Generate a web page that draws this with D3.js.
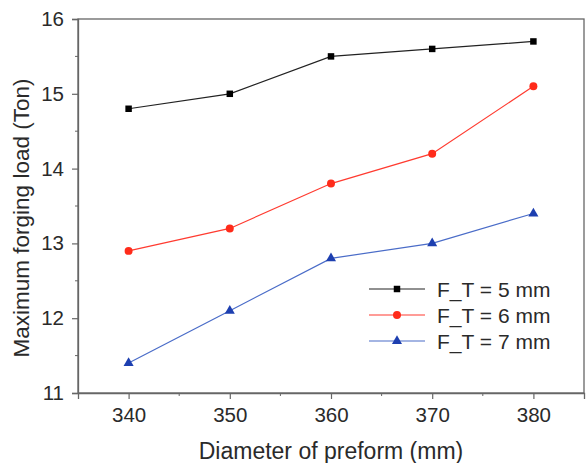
<!DOCTYPE html>
<html>
<head>
<meta charset="utf-8">
<script src="https://cdn.jsdelivr.net/npm/d3@7"></script>
<style>
	body { margin: 0; background: #fff; }
	svg text { font-family: "Liberation Sans", Arial, sans-serif; fill: #2a2a2a; }
</style>
</head>
<body>
<svg id="chart" width="587" height="463"></svg>
<script>
// Data
const diameters = [340, 350, 360, 370, 380];
const load5 = [14.8, 15.0, 15.5, 15.6, 15.7];
const load6 = [12.9, 13.2, 13.8, 14.2, 15.1];
const load7 = [11.4, 12.1, 12.8, 13.0, 13.4];
const seriesNames = ['F_T = 5 mm', 'F_T = 6 mm', 'F_T = 7 mm'];
const xTicks = [340, 350, 360, 370, 380];
const yTicks = [11, 12, 13, 14, 15, 16];

const series = [
	{ 'name': seriesNames[0], 'values': load5, 'line': '#222', 'fill': '#000', 'symbol': d3.symbolSquare, 'size': 42 },
	{ 'name': seriesNames[1], 'values': load6, 'line': '#ff3b30', 'fill': '#ff2b1a', 'symbol': d3.symbolCircle, 'size': 50 },
	{ 'name': seriesNames[2], 'values': load7, 'line': '#4a6cc8', 'fill': '#1d3fb0', 'symbol': d3.symbolTriangle, 'size': 44 }
];

const svg = d3.select('#chart');
const margin = { 'left': 78, 'top': 19, 'right': 3, 'bottom': 70 };
const width = 587 - margin.left - margin.right;
const height = 463 - margin.top - margin.bottom;

const x = d3.scaleLinear().domain([335, 385]).range([0, width]);
const y = d3.scaleLinear().domain([11, 16]).range([height, 0]);

const g = svg.append('g').attr('transform', 'translate(' + margin.left + ',' + margin.top + ')');

// Frame
g.append('rect')
	.attr('width', width)
	.attr('height', height)
	.style('fill', 'none')
	.style('stroke', '#666')
	.style('stroke-width', 1.3);

// Minor ticks
g.append('g').selectAll('line')
	.data([345, 355, 365, 375])
.join('line')
	.attr('x1', d => x(d)).attr('x2', d => x(d))
	.attr('y1', height).attr('y2', height + 3)
	.style('stroke', '#666');

g.append('g').selectAll('line')
	.data([11.5, 12.5, 13.5, 14.5, 15.5])
.join('line')
	.attr('y1', d => y(d)).attr('y2', d => y(d))
	.attr('x1', 0).attr('x2', -3)
	.style('stroke', '#666');

// Axes
const xAxis = g.append('g')
	.attr('transform', 'translate(0,' + height + ')')
	.call(d3.axisBottom(x).tickValues(xTicks).tickFormat(d3.format('d')).tickSize(6).tickPadding(8));
const yAxis = g.append('g')
	.call(d3.axisLeft(y).tickValues(yTicks).tickFormat(d3.format('d')).tickSize(6).tickPadding(8));

for (const axis of [xAxis, yAxis]) {
	axis.attr('font-size', null).attr('font-family', null);
	axis.select('.domain').style('stroke', '#666').style('stroke-width', 1.3);
	axis.selectAll('.tick line').style('stroke', '#666').style('stroke-width', 1.2);
	axis.selectAll('.tick text').style('font-size', '20.5px').style('fill', '#2a2a2a');
}

// Axis titles
svg.append('text')
	.attr('x', margin.left + width / 2)
	.attr('y', 459)
	.attr('text-anchor', 'middle')
	.style('font-size', '23px')
	.text('Diameter of preform (mm)');

svg.append('text')
	.attr('transform', 'translate(29,218) rotate(-90)')
	.attr('text-anchor', 'middle')
	.style('font-size', '22.5px')
	.text('Maximum forging load (Ton)');

// Lines and markers
const line = d3.line()
	.x((d, i) => x(diameters[i]))
	.y(d => y(d));

for (const s of series) {
	g.append('path')
		.datum(s.values)
		.attr('d', line)
		.style('fill', 'none')
		.style('stroke', s.line)
		.style('stroke-width', 1.2);

	g.append('g').selectAll('path')
		.data(s.values)
	.join('path')
		.attr('transform', (d, i) => 'translate(' + x(diameters[i]) + ',' + y(d) + ')')
		.attr('d', d3.symbol().type(s.symbol).size(s.size))
		.style('fill', s.fill);
}

// Legend
const legend = svg.append('g').attr('transform', 'translate(369,289)');
const rows = legend.selectAll('g')
	.data(series)
.join('g')
	.attr('transform', (d, i) => 'translate(0,' + i * 26 + ')');

rows.append('line')
	.attr('x1', 0).attr('x2', 56)
	.style('stroke', d => d.line)
	.style('stroke-width', 1.2);
rows.append('path')
	.attr('transform', 'translate(28,0)')
	.attr('d', d => d3.symbol().type(d.symbol).size(d.size)())
	.style('fill', d => d.fill);
rows.append('text')
	.attr('x', 68)
	.attr('dy', '0.36em')
	.style('font-size', '21px')
	.text(d => d.name);
</script>
</body>
</html>
